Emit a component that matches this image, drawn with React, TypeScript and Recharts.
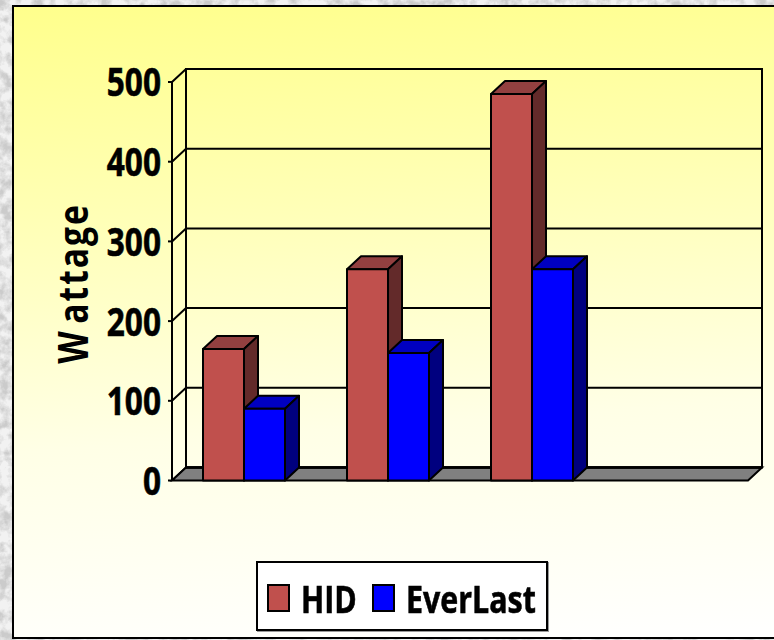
import React from 'react';
import {
    BarChart,
    Bar,
    XAxis,
    YAxis,
    CartesianGrid,
    Label,
    Legend,
    ReferenceArea
} from 'recharts';

const CATEGORIES = ['A', 'B', 'C', 'D'];
const HID = [165, 265, 485, null];
const EVERLAST = [90, 160, 265, null];
const Y_TICKS = [0, 100, 200, 300, 400, 500];

const data = CATEGORIES.map((name, i) => ({ name, HID: HID[i], EverLast: EVERLAST[i] }));

// Oblique offset of the back wall from the front plane
const DEPTH_X = 14;
const DEPTH_Y = 13;
const FONT = '"Open Sans", sans-serif';

const Bar3D = ({ x, y, width, height, fill, top, side }: any) => {
    if (height == null || height <= 0) return null;
    const r = x + width;
    const b = y + height;
    return (
        <g stroke="#000" strokeWidth={2} strokeLinejoin="round">
            <polygon
                points={`${x},${y} ${x + DEPTH_X},${y - DEPTH_Y} ${r + DEPTH_X},${y - DEPTH_Y} ${r},${y}`}
                fill={top}
            />
            <polygon
                points={`${r},${y} ${r + DEPTH_X},${y - DEPTH_Y} ${r + DEPTH_X},${b - DEPTH_Y} ${r},${b}`}
                fill={side}
            />
            <rect x={x} y={y} width={width} height={height} fill={fill} />
        </g>
    );
};

// Back wall outline and grey floor
const Room = ({ x, y, width, height }: any) => {
    const b = y + height;
    const r = x + width;
    return (
        <g stroke="#000">
            <polygon
                points={`${x},${b} ${x + DEPTH_X},${b - DEPTH_Y} ${r + DEPTH_X},${b - DEPTH_Y} ${r},${b}`}
                fill="#808080"
                strokeWidth={2}
            />
            <line x1={x + DEPTH_X} y1={b - DEPTH_Y} x2={r + DEPTH_X} y2={b - DEPTH_Y} strokeWidth={2.5} />
            <rect x={x + DEPTH_X} y={y - DEPTH_Y} width={width} height={height} fill="none" strokeWidth={2} />
        </g>
    );
};

const GridLine = ({ x1, y1, x2 }: any) => (
    <polyline
        points={`${x1},${y1} ${x1 + DEPTH_X},${y1 - DEPTH_Y} ${x2 + DEPTH_X},${y1 - DEPTH_Y}`}
        fill="none"
        stroke="#000"
        strokeWidth={2}
    />
);

// No condensed bold is installed, so the glyphs get squeezed horizontally
const NarrowTick = ({ x, y, payload }: any) => (
    <text
        transform={`translate(${x},${y}) scale(0.79,1)`}
        dy="0.36em"
        textAnchor="end"
        fill="#000"
        stroke="#000"
        strokeWidth={0.6}
        fontSize={40}
        fontWeight={700}
        fontFamily={FONT}
    >
        {payload.value}
    </text>
);

const AxisTitle = () => (
    <text
        transform="translate(88,283.5) rotate(-90) scale(0.8,1)"
        textAnchor="middle"
        fill="#000"
        fontSize={42}
        fontWeight={700}
        fontFamily={FONT}
        letterSpacing={2.5}
    >
        <tspan>W</tspan>
        <tspan dx={7}>attage</tspan>
    </text>
);

const LEGEND_ITEM_WIDTHS = [105, 170];

const LegendBox = ({ payload }: any) => (
    <div
        style={{
            boxSizing: 'border-box',
            width: 292,
            height: 70,
            background: '#fff',
            border: '2px solid #000',
            boxShadow: '1px 1px 0 #999',
            display: 'flex',
            alignItems: 'center',
            paddingLeft: 9,
            paddingTop: 5,
            fontFamily: FONT,
            fontWeight: 700,
            fontSize: 38,
            color: '#000',
            WebkitTextStroke: '0.6px #000'
        }}
    >
        {(payload || []).map((item: any, i: number) => (
            <div key={item.value} style={{ display: 'flex', alignItems: 'center', width: LEGEND_ITEM_WIDTHS[i], flex: 'none' }}>
                <span
                    style={{
                        boxSizing: 'border-box',
                        width: 23,
                        height: 28,
                        flex: 'none',
                        background: item.color,
                        border: '2px solid #000',
                        marginRight: 11
                    }}
                />
                <span style={{ display: 'inline-block', transform: 'scaleX(0.8)', transformOrigin: 'left center', whiteSpace: 'nowrap' }}>
                    {item.value}
                </span>
            </div>
        ))}
    </div>
);

export default function App() {
    return (
        <div style={{ position: 'absolute', left: 0, top: 0, width: 774, height: 640, overflow: 'hidden', background: '#f2f2f2' }}>
            <svg width={774} height={640} style={{ position: 'absolute', left: 0, top: 0 }}>
                <filter id="grain">
                    <feTurbulence type="fractalNoise" baseFrequency="0.09" numOctaves={4} seed={4} />
                    <feColorMatrix values="0 0 0 0 0.6  0 0 0 0 0.6  0 0 0 0 0.6  3 0 0 0 -1.1" />
                </filter>
                <rect width={774} height={640} filter="url(#grain)" />
            </svg>
            <div
                style={{
                    position: 'absolute',
                    left: 12,
                    top: 5,
                    width: 790,
                    height: 634,
                    boxSizing: 'border-box',
                    border: '2px solid #000',
                    background: 'linear-gradient(176deg, #ffff8c 0%, #ffffb4 30%, #ffffe6 65%, #ffffff 100%)'
                }}
            />
            <div style={{ position: 'absolute', left: 0, top: 0 }}>
                <BarChart
                    width={774}
                    height={640}
                    data={data}
                    margin={{ top: 82, right: 26, bottom: 159.5, left: 0 }}
                    barSize={41}
                    barGap={0}
                >
                    <ReferenceArea yAxisId={0} y1={0} y2={500} shape={<Room />} ifOverflow="visible" />
                    <CartesianGrid vertical={false} horizontal={(props: any) => <GridLine key={props.key} {...props} />} />
                    <XAxis dataKey="name" height={0} tick={false} tickLine={false} axisLine={{ stroke: '#000', strokeWidth: 2 }} />
                    <YAxis
                        width={172}
                        domain={[0, 500]}
                        ticks={Y_TICKS}
                        interval={0}
                        tickSize={4}
                        tickMargin={7}
                        axisLine={{ stroke: '#000', strokeWidth: 2 }}
                        tickLine={{ stroke: '#000', strokeWidth: 2 }}
                        tick={<NarrowTick />}
                    >
                        <Label content={<AxisTitle />} />
                    </YAxis>
                    <Legend
                        layout="horizontal"
                        verticalAlign="middle"
                        align="center"
                        itemSorter={null}
                        wrapperStyle={{ position: 'absolute', left: 255.5, top: 560.5, width: 292, height: 70 }}
                        content={<LegendBox />}
                    />
                    <Bar dataKey="HID" fill="#c0504d" isAnimationActive={false} shape={<Bar3D top="#934040" side="#632a2a" />} />
                    <Bar dataKey="EverLast" fill="#0000ff" isAnimationActive={false} shape={<Bar3D top="#0000c0" side="#00007f" />} />
                </BarChart>
            </div>
        </div>
    );
}
